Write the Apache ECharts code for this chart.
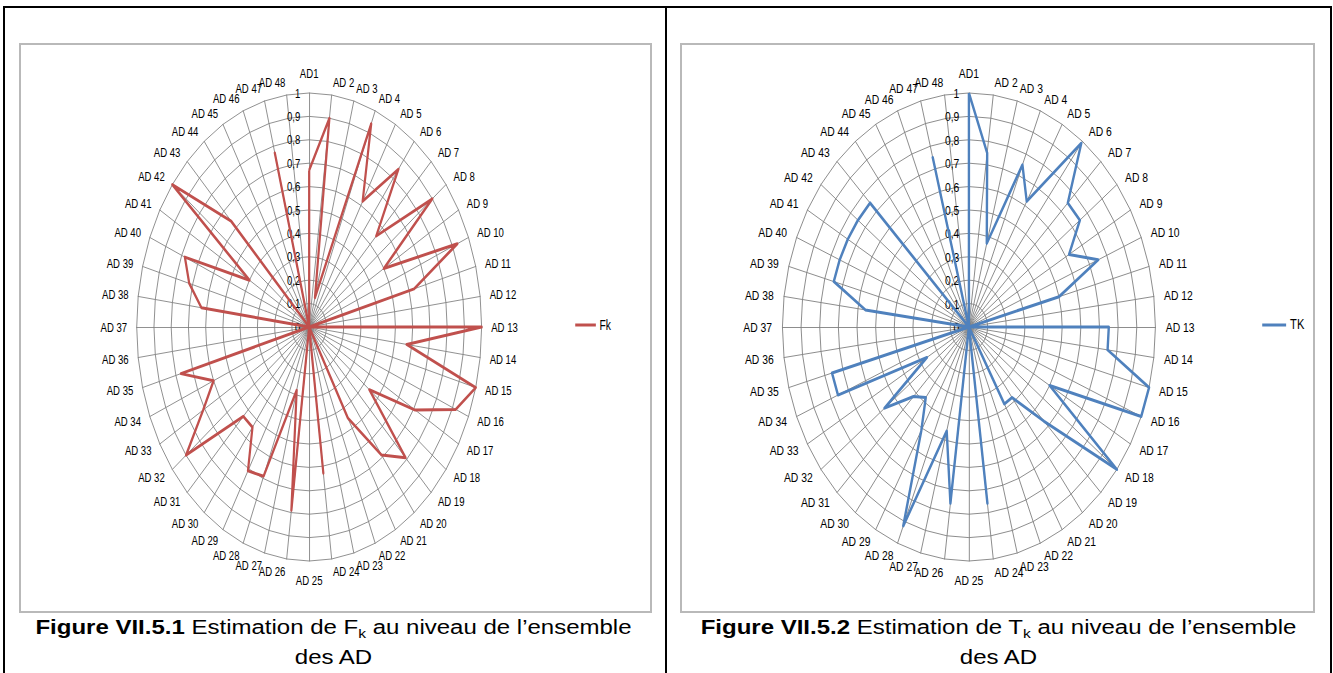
<!DOCTYPE html>
<html>
<head>
<meta charset="utf-8">
<script src="https://cdn.jsdelivr.net/npm/echarts@6/dist/echarts.min.js"></script>
<style>
html,body{margin:0;padding:0;background:#fff;width:1333px;height:673px;overflow:hidden;font-family:"Liberation Sans",Arial,sans-serif;}
.frame{position:absolute;left:3px;top:6px;width:1325px;height:720px;border:2px solid #000;border-bottom:none;}
.divider{position:absolute;left:665px;top:6px;width:2px;height:720px;background:#000;}
.box{position:absolute;top:43px;height:566px;border:2px solid #b9b9b9;overflow:hidden;}
#boxL{left:19px;width:629px;}
#boxR{left:680px;width:631px;}
.chart{position:absolute;top:0;left:0;height:566px;transform-origin:0 0;}
.cap{position:absolute;top:612px;width:553px;text-align:center;font-size:20px;line-height:30px;color:#000;transform:scaleX(1.2);transform-origin:50% 0;white-space:nowrap;}
.cap sub{font-size:13px;vertical-align:baseline;position:relative;top:0.3em;line-height:0;}
</style>
</head>
<body>
<div class="frame"></div>
<div class="divider"></div>
<div class="box" id="boxL"><div class="chart" id="chartL"></div></div>
<div class="box" id="boxR"><div class="chart" id="chartR"></div></div>
<div class="cap" style="left:57px;"><b>Figure VII.5.1</b> Estimation de F<sub>k</sub> au niveau de l’ensemble<br>des AD</div>
<div class="cap" style="left:722px;"><b>Figure VII.5.2</b> Estimation de T<sub>k</sub> au niveau de l’ensemble<br>des AD</div>
<script>
// ---- data ----
const categories = ['AD1','AD 2','AD 3','AD 4','AD 5','AD 6','AD 7','AD 8','AD 9','AD 10','AD 11','AD 12',
  'AD 13','AD 14','AD 15','AD 16','AD 17','AD 18','AD 19','AD 20','AD 21','AD 22','AD 23','AD 24',
  'AD 25','AD 26','AD 27','AD 28','AD 29','AD 30','AD 31','AD 32','AD 33','AD 34','AD 35','AD 36',
  'AD 37','AD 38','AD 39','AD 40','AD 41','AD 42','AD 43','AD 44','AD 45','AD 46','AD 47','AD 48'];
const fkValues = [0.67,0.90,0.13,0.94,0.62,0.85,0.55,0.90,0.50,0.93,0.63,0,
  1.0,0.57,1.0,0.92,0.71,0.44,0.79,0.69,0.45,0,0,0.63,
  0,0.79,0.28,0.69,0.71,0.54,0.54,0.90,0.71,0.60,0.77,0,
  0,0.63,0.72,0.78,0.40,1.0,0.64,0,0,0,0.77,0];
const tkValues = [1.0,0.75,0.37,0.75,0.62,0.99,0.75,0.75,0.62,0.75,0.50,0,
  0.75,0.75,1.0,1.0,0.50,1.0,0.57,0.38,0.38,0,0,0.76,
  0,0.76,0.46,0.92,0.51,0.38,0.42,0.57,0.26,0.76,0.76,0,
  0,0.56,0.75,0.75,0.75,0.75,0.75,0,0,0,0.75,0];
const axisMin = 0, axisMax = 1, splitCount = 10;

// clockwise order (ECharts radar runs counter-clockwise)
const order = [0].concat(categories.map((_, i) => i).slice(1).reverse());

function makeChart(el, cfg) {
  const scale = cfg.scale;
  const boxW = el.parentNode.clientWidth;
  el.style.width = (boxW / scale) + 'px';
  el.style.transform = 'scaleX(' + scale + ')';
  const chart = echarts.init(el, null, {renderer: 'svg'});
  const indicator = order.map((i, k) => {
    const ind = {name: categories[i], min: axisMin, max: axisMax};
    if (k === 0) ind.axisLabel = {show: true};
    return ind;
  });
  chart.setOption({
    animation: false,
    textStyle: {fontFamily: 'Liberation Sans'},
    legend: {
      data: [cfg.name], left: cfg.legendLeft, top: 273, padding: 0, icon: 'rect',
      itemWidth: cfg.legendW, itemHeight: 3,
      textStyle: {fontSize: 14, color: '#000', fontFamily: 'Liberation Sans'}
    },
    radar: {
      center: [cfg.cx, 282], radius: 234, startAngle: 90,
      splitNumber: splitCount, shape: 'polygon',
      indicator: indicator,
      nameGap: 13,
      axisName: {color: '#000', fontSize: 13, fontFamily: 'Liberation Sans'},
      axisLine: {show: true, lineStyle: {color: '#808080', width: 1}},
      splitLine: {show: true, lineStyle: {color: '#808080', width: 1}},
      splitArea: {show: false},
      axisTick: {show: false},
      axisLabel: {show: false, color: '#000', fontSize: 13, margin: 12,
        formatter: v => String(Math.round(v * 10) / 10).replace('.', ',')}
    },
    series: [{
      type: 'radar', symbol: 'none',
      lineStyle: {color: cfg.color, width: 3},
      itemStyle: {color: cfg.color},
      data: [{name: cfg.name, value: order.map(i => cfg.values[i])}]
    }]
  });
}

makeChart(document.getElementById('chartL'), {scale: 0.737, cx: 391, legendLeft: 752, legendW: 28, name: 'Fk', color: '#C0504D', values: fkValues});
makeChart(document.getElementById('chartR'), {scale: 0.797, cx: 360, legendLeft: 728, legendW: 30, name: 'TK', color: '#4F81BD', values: tkValues});
</script>
</body>
</html>
